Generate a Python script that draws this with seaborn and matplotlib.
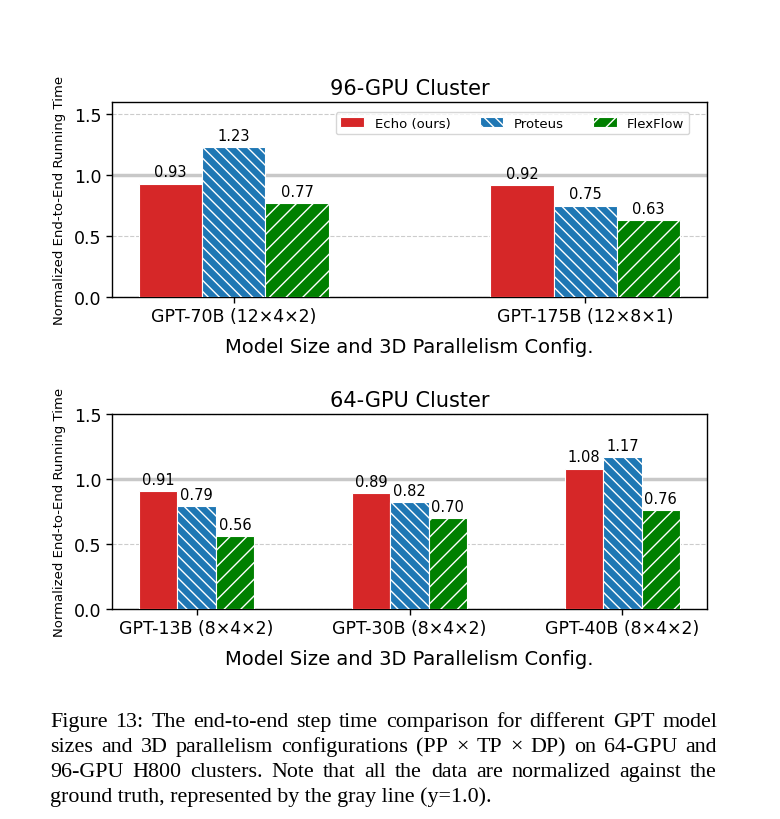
import matplotlib
matplotlib.use("Agg")
import matplotlib.pyplot as plt
import seaborn as sns
import pandas as pd

methods = ["Echo (ours)", "Proteus", "FlexFlow"]
colors = ["#d62728", "#1f77b4", "green"]
hatches = ["", "\\\\\\", "//"]

models_96 = ["GPT-70B (12×4×2)", "GPT-175B (12×8×1)"]
echo_96 = [0.93, 0.92]
proteus_96 = [1.23, 0.75]
flexflow_96 = [0.77, 0.63]

models_64 = ["GPT-13B (8×4×2)", "GPT-30B (8×4×2)", "GPT-40B (8×4×2)"]
echo_64 = [0.91, 0.89, 1.08]
proteus_64 = [0.79, 0.82, 1.17]
flexflow_64 = [0.56, 0.70, 0.76]

caption_lines = [
    "Figure 13: The end-to-end step time comparison for different GPT model",
    "sizes and 3D parallelism configurations (PP × TP × DP) on 64-GPU and",
    "96-GPU H800 clusters. Note that all the data are normalized against the",
    "ground truth, represented by the gray line (y=1.0).",
]

sns.set_style("white")
plt.rcParams['font.family'] = ['DejaVu Sans']
plt.rcParams['hatch.color'] = 'white'
plt.rcParams['hatch.linewidth'] = 1.0
for k in ['text.color', 'axes.labelcolor', 'xtick.color', 'ytick.color']:
    plt.rcParams[k] = 'black'

fig = plt.figure(figsize=(7.8, 8.2), dpi=100)
ax1 = fig.add_axes([0.1436, 0.6366, 0.7628, 0.2378])
ax2 = fig.add_axes([0.1436, 0.2561, 0.7628, 0.2378])

bar_w = 0.18


def make_df(models, e, p, f):
    rows = []
    for m, a, b, c in zip(models, e, p, f):
        rows.append((m, methods[0], a))
        rows.append((m, methods[1], b))
        rows.append((m, methods[2], c))
    return pd.DataFrame(rows, columns=["model", "method", "value"])


def draw(ax, df, models, title, ylim, yticks, legend):
    sns.barplot(data=df, x="model", y="value", hue="method", order=models,
                hue_order=methods, palette=colors, width=3 * bar_w,
                edgecolor="white", linewidth=0.8, saturation=1, ax=ax,
                legend=legend, zorder=3)
    for cont, h in zip(ax.containers, hatches):
        for p in cont:
            p.set_hatch(h)
        ax.bar_label(cont, fmt="%.2f", padding=3, fontsize=10.5)
    n = len(models)
    span = (n - 1) + 3 * bar_w
    m = 1.5 * bar_w + 0.05 * span
    ax.set_xlim(-m, n - 1 + m)
    ax.set_ylim(*ylim)
    ax.set_yticks(yticks)
    ax.yaxis.grid(True, linestyle="--", color="#cccccc", linewidth=0.8, zorder=0)
    ax.axhline(1.0, color="#c8c8c8", linewidth=2.5, zorder=1)
    ax.set_title(title, fontsize=15)
    ax.set_xlabel("Model Size and 3D Parallelism Config.", fontsize=14, labelpad=8)
    ax.set_ylabel("Normalized End-to-End Running Time", fontsize=9.5, labelpad=6)
    ax.tick_params(axis="both", labelsize=12.5, length=4, width=1, left=True, bottom=True)
    for s in ax.spines.values():
        s.set_color("black")
        s.set_linewidth(1.0)
    if legend:
        handles, labels = ax.get_legend_handles_labels()
        for hd, h in zip(handles, hatches):
            hd.set_hatch(h)
        ax.legend(handles, labels, loc="upper right", ncol=3, fontsize=9.5,
                  frameon=True, handlelength=1.8, handletextpad=0.8,
                  columnspacing=2.2, borderpad=0.35, borderaxespad=0,
                  bbox_to_anchor=(0.97, 0.949))
    elif ax.get_legend() is not None:
        ax.get_legend().remove()


draw(ax1, make_df(models_96, echo_96, proteus_96, flexflow_96), models_96,
     "96-GPU Cluster", (0, 1.6), [0.0, 0.5, 1.0, 1.5], True)
draw(ax2, make_df(models_64, echo_64, proteus_64, flexflow_64), models_64,
     "64-GPU Cluster", (0, 1.5), [0.0, 0.5, 1.0, 1.5], False)

# Caption, justified like the paper text
fig.canvas.draw()
renderer = fig.canvas.get_renderer()
W, H = 780.0, 820.0
x_left, x_right = 50.0, 717.0
cap_fs = 15.8
for i, line in enumerate(caption_lines):
    yy = 1 - (727 + i * 25) / H
    words = line.split(" ")
    last = i == len(caption_lines) - 1
    if last:
        fig.text(x_left / W, yy, line, family=["Liberation Serif"],
                 fontsize=cap_fs, ha="left", va="baseline")
        continue
    texts = [fig.text(0, yy, w, family=["Liberation Serif"], fontsize=cap_fs,
                      ha="left", va="baseline") for w in words]
    widths = [t.get_window_extent(renderer).width for t in texts]
    gap = (x_right - x_left - sum(widths)) / (len(words) - 1)
    x = x_left
    for t, wd in zip(texts, widths):
        t.set_x(x / W)
        x += wd + gap

fig.savefig("out.png", dpi=100)
